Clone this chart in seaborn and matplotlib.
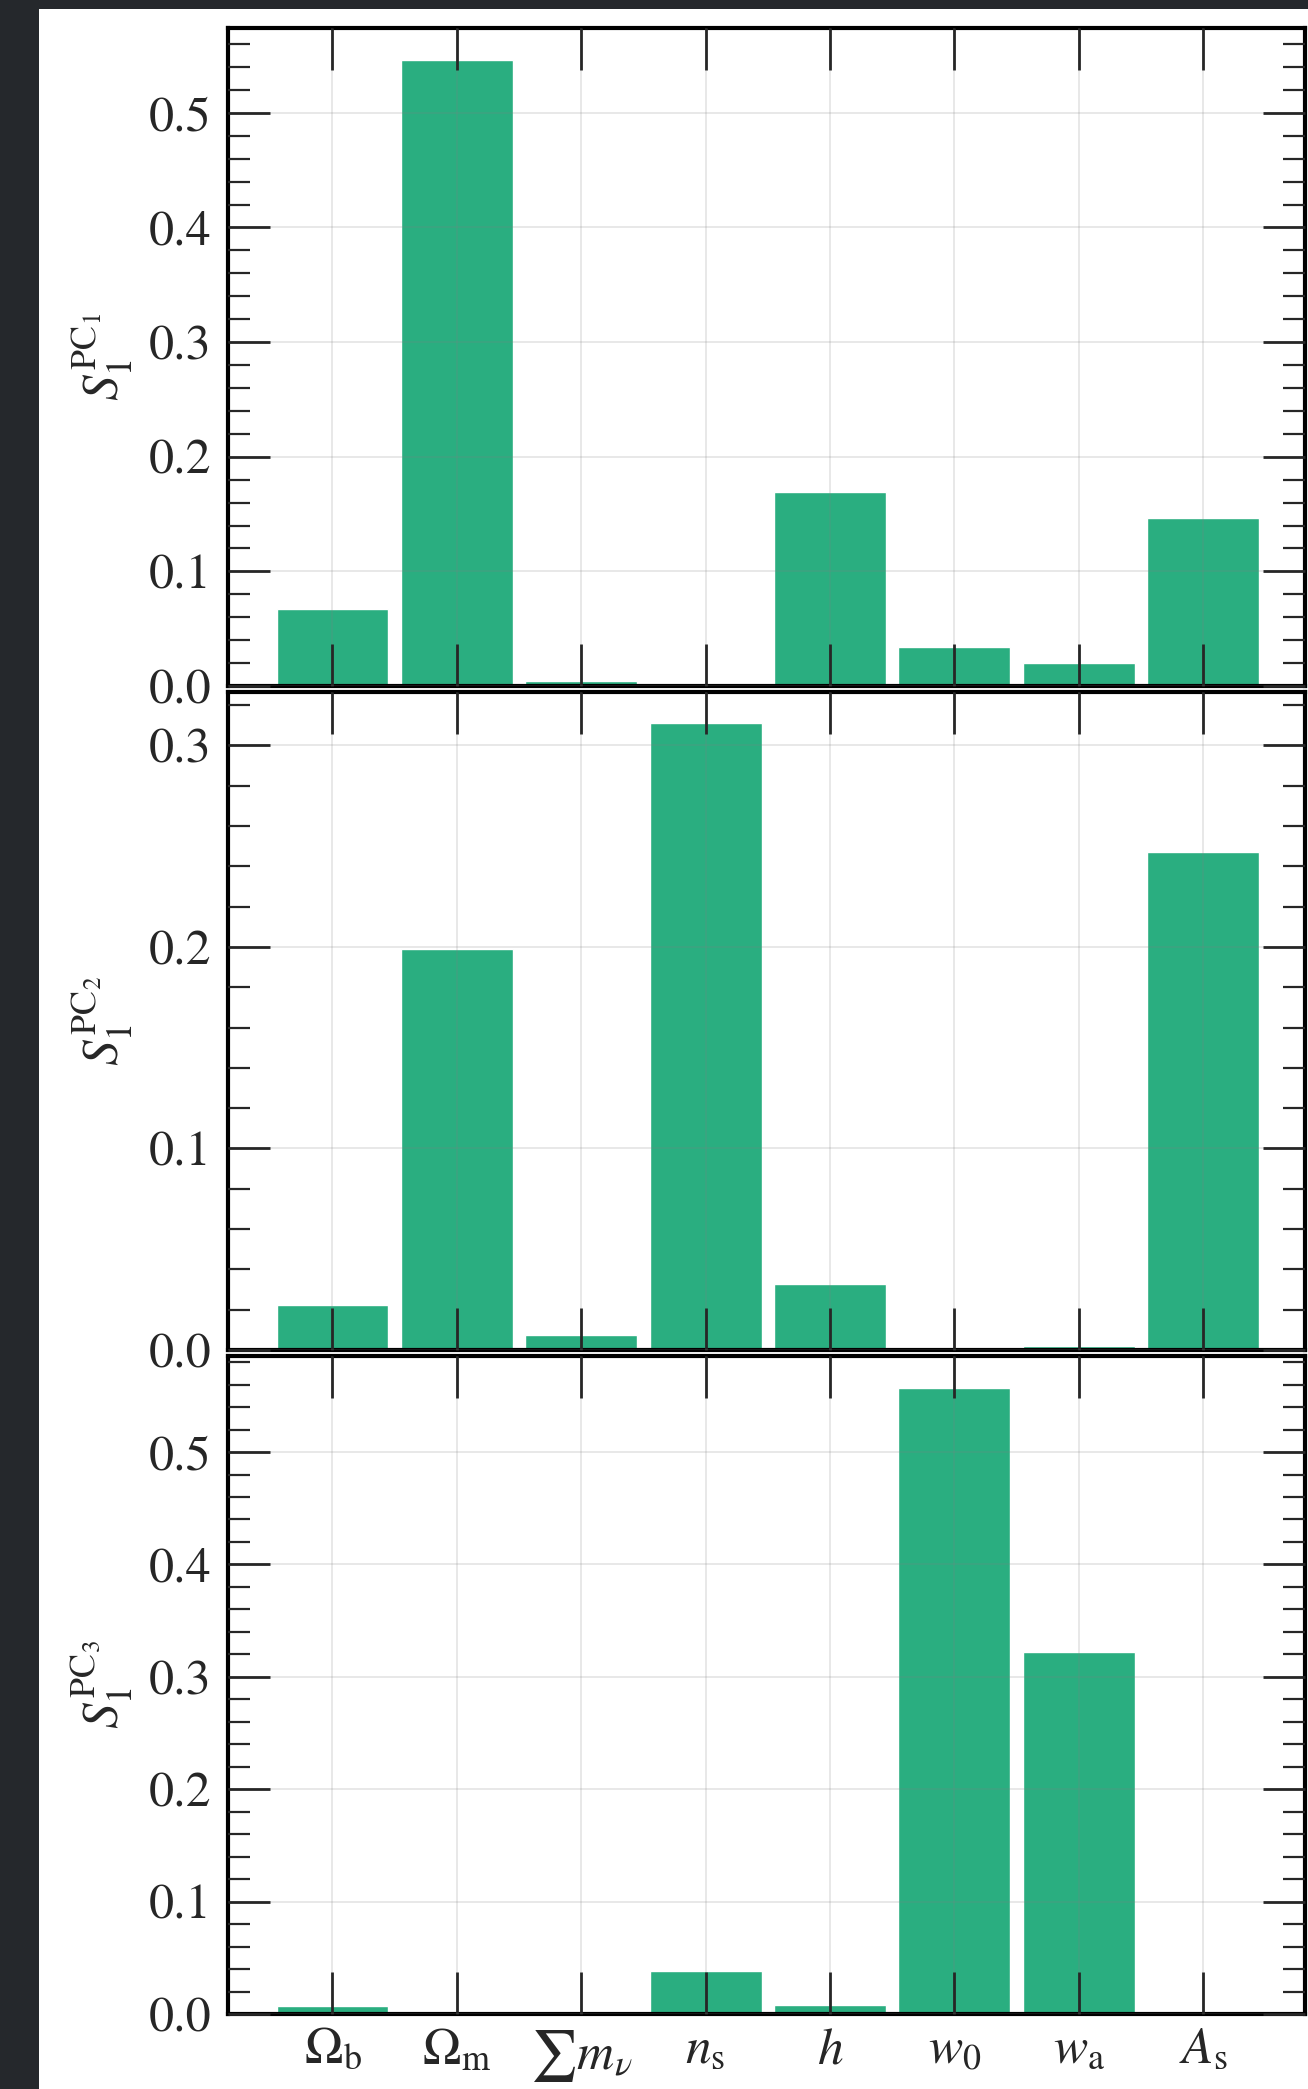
import numpy as np
import pandas as pd
import seaborn as sns
import matplotlib.pyplot as plt
from matplotlib.ticker import AutoMinorLocator, MultipleLocator
from matplotlib.patches import Rectangle

# параметри та значення індексів чутливості для трьох головних компонент
params = [r'$\Omega_\mathrm{b}$', r'$\Omega_\mathrm{m}$', r'$\sum m_\nu$', r'$n_\mathrm{s}$',
          r'$h$', r'$w_0$', r'$w_\mathrm{a}$', r'$A_\mathrm{s}$']
pc1 = [0.067, 0.546, 0.004, 0.0, 0.169, 0.034, 0.020, 0.147]
pc2 = [0.0225, 0.199, 0.0073, 0.311, 0.033, 0.0004, 0.002, 0.247]
pc3 = [0.007, 0.0, 0.0, 0.038, 0.0083, 0.557, 0.322, 0.0]
ylabels = [r'$S_1^{\mathrm{PC}_1}$', r'$S_1^{\mathrm{PC}_2}$', r'$S_1^{\mathrm{PC}_3}$']
ylims = [0.574, 0.3265, 0.5855]

sns.set_style('white')
plt.rcParams['font.family'] = ['STIXGeneral', 'Liberation Serif', 'DejaVu Serif']
plt.rcParams['mathtext.fontset'] = 'stix'

bar_color = '#2aae80'

fig, axes = plt.subplots(3, 1, figsize=(13.08, 20.89), dpi=100, sharex=True)
fig.patch.set_facecolor('#25282c')
fig.patches.append(Rectangle((39 / 1308, 0), 1, 1 - 9 / 2089, transform=fig.transFigure,
                             facecolor='white', edgecolor='none', zorder=-1))
fig.subplots_adjust(left=228 / 1308, right=1305 / 1308, top=1 - 28 / 2089,
                    bottom=1 - 2014 / 2089, hspace=0.009)

for ax, vals, lab, ytop in zip(axes, [pc1, pc2, pc3], ylabels, ylims):
    df = pd.DataFrame({'param': params, 'S1': vals})
    sns.barplot(data=df, x='param', y='S1', color=bar_color, saturation=1,
                width=0.9, ax=ax, zorder=1)
    ax.set_xlim(-0.84, 7.82)
    ax.set_ylim(0, ytop)
    ax.yaxis.set_major_locator(MultipleLocator(0.1))
    ax.yaxis.set_minor_locator(AutoMinorLocator(5))
    ax.set_axisbelow(False)
    ax.grid(True, which='major', color='gray', alpha=0.2, linewidth=1.3)
    ax.tick_params(which='both', direction='in', top=True, right=True,
                   left=True, bottom=True, labelsize=36, pad=12)
    ax.tick_params(which='major', length=30, width=2)
    ax.tick_params(which='minor', length=16, width=1.6)
    ax.tick_params(axis='x', which='minor', bottom=False, top=False)
    for sp in ax.spines.values():
        sp.set_linewidth(3)
        sp.set_color('black')
    ax.set_xlabel('')
    ax.set_ylabel(lab, fontsize=37, labelpad=10)

axes[2].tick_params(axis='x', pad=10, labelsize=37)

plt.savefig('out.png', dpi=100, facecolor=fig.get_facecolor())
